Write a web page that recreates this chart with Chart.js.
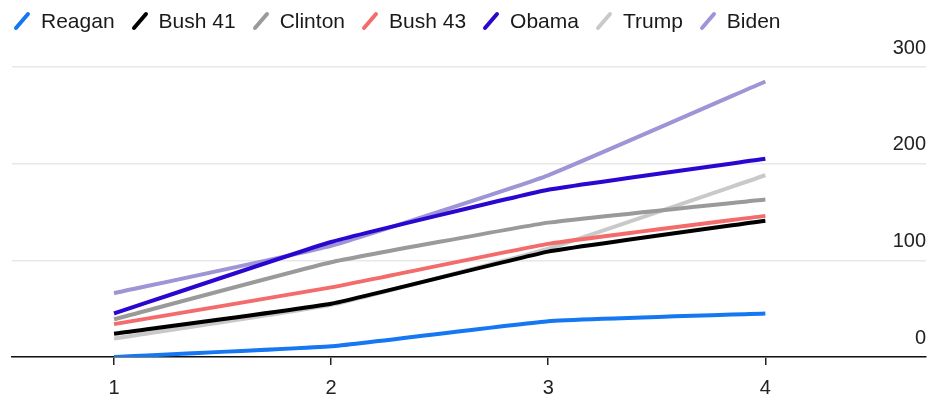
<!DOCTYPE html>
<html>
<head>
<meta charset="utf-8">
<script src="https://cdn.jsdelivr.net/npm/chart.js@4.4.0/dist/chart.umd.min.js"></script>
<style>
  body { margin: 0; background: #fff; }
  .wrap { position: relative; width: 929px; height: 396px; }
  #mandatos { display: block; }
  #leyenda { position: absolute; top: 9px; left: 12px; display: flex; gap: 15px;
             font: 21px "Liberation Sans", Arial, sans-serif; color: #1a1a1a; line-height: 24px; }
  #leyenda span { display: flex; align-items: center; }
  #leyenda svg { margin-right: 9px; }
</style>
</head>
<body>
<div class="wrap">
  <canvas id="mandatos" width="929" height="396"></canvas>
  <div id="leyenda"></div>
</div>
<script>
// años de mandato y valores por presidente
const anios = [1, 2, 3, 4];
const reagan = [0, 11, 37, 45];
const bush41 = [24, 55, 109, 141];
const clinton = [39, 98, 139, 163];
const bush43 = [34, 72, 117, 146];
const obama = [45, 119, 173, 205];
const trump = [19, 54, 112, 188];
const biden = [66, 115, 188, 285];
const ticksY = [0, 100, 200, 300];

Chart.defaults.font.family = "'Liberation Sans', Arial, sans-serif";

function serie(nombre, valores, color) {
    return {
        label: nombre,
        data: valores.map((v, i) => ({ x: anios[i], y: v })),
        borderColor: color,
        backgroundColor: color
    };
}

const grafica = new Chart(document.getElementById('mandatos'), {
    type: 'line',
    data: {
        datasets: [
            serie('Reagan', reagan, '#1577f2'),
            serie('Bush 41', bush41, '#000000'),
            serie('Clinton', clinton, '#9a9a9a'),
            serie('Bush 43', bush43, '#f36b6b'),
            serie('Obama', obama, '#2a06d0'),
            serie('Trump', trump, '#c9c9c9'),
            serie('Biden', biden, '#9d95d6')
        ]
    },
    options: {
        responsive: false,
        animation: false,
        layout: { padding: { top: 67, right: 3, left: 12, bottom: 0 } },
        plugins: { legend: { display: false }, tooltip: { enabled: false } },
        elements: {
            point: { radius: 0 },
            line: { borderWidth: 4, tension: 0.1, borderJoinStyle: 'round' }
        },
        scales: {
            x: {
                type: 'linear', min: 0.53, max: 4.74,
                afterBuildTicks: s => { s.ticks = anios.map(v => ({ value: v })); },
                afterFit: s => { s.height = 39; },
                grid: { drawOnChartArea: false, tickLength: 8, color: '#222', lineWidth: 1.5 },
                border: { color: '#111', width: 1.5 },
                ticks: { font: { size: 20, lineHeight: 1 }, color: '#222', padding: 13 }
            },
            y: {
                position: 'right', min: 0, max: 300,
                afterBuildTicks: s => { s.ticks = ticksY.map(v => ({ value: v })); },
                grid: { color: '#e8e8e8', lineWidth: 1.5, drawTicks: false },
                border: { display: false },
                ticks: { mirror: true, padding: 0, labelOffset: -19, font: { size: 20 }, color: '#222' }
            }
        }
    }
});

// leyenda con rayitas diagonales
const leyenda = document.getElementById('leyenda');
grafica.data.datasets.forEach(ds => {
    const item = document.createElement('span');
    item.innerHTML = '<svg width="20" height="20"><line x1="4" y1="17" x2="16" y2="3" stroke="' +
        ds.borderColor + '" stroke-width="4" stroke-linecap="round"/></svg>' + ds.label;
    leyenda.appendChild(item);
});
</script>
</body>
</html>
